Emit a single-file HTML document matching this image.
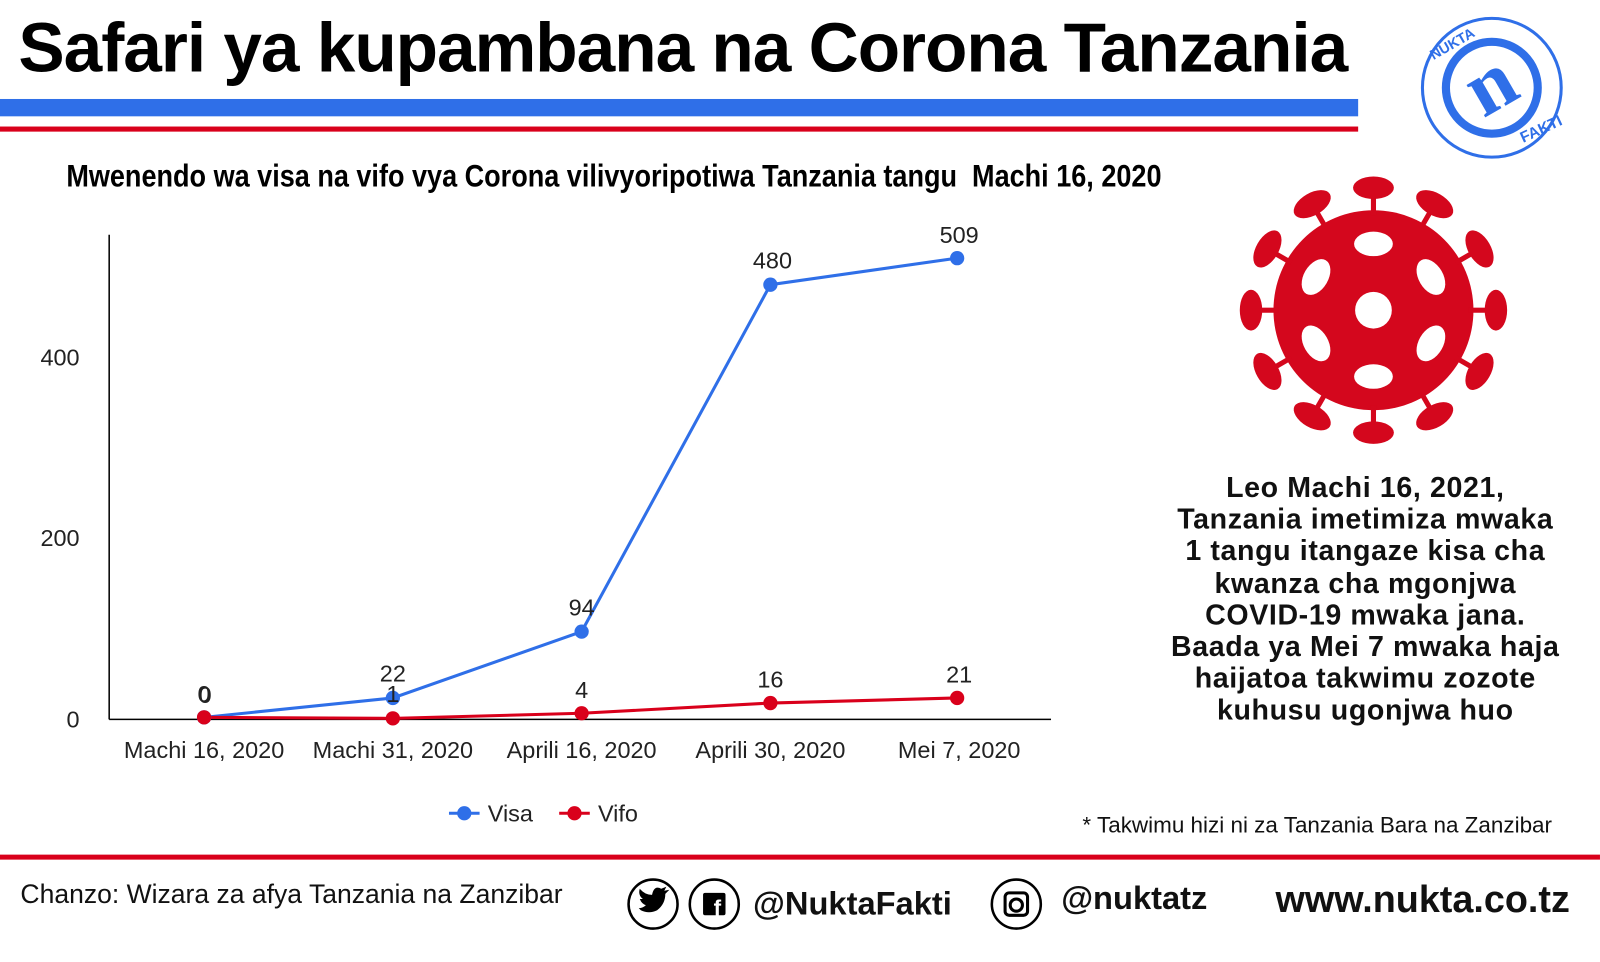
<!DOCTYPE html>
<html><head><meta charset="utf-8"><style>
html,body{margin:0;padding:0;background:#fff;overflow:hidden}
#w{position:absolute;left:0;top:0;width:1568px;height:943px;transform:scale(1.0204);transform-origin:0 0;font-family:"Liberation Sans",sans-serif}
.a{position:absolute;white-space:nowrap}
</style></head><body><div id="w">
<div class="a" style="left:18px;top:8px;font-size:68px;font-weight:bold;color:#000;letter-spacing:-1px">Safari ya kupambana na Corona Tanzania</div>
<div class="a" style="left:0;top:97px;width:1331px;height:17px;background:#2f6fe8"></div>
<div class="a" style="left:0;top:124px;width:1331px;height:5px;background:#d9001b"></div>
<div class="a" style="left:65px;top:155px;font-size:31px;font-weight:bold;transform:scaleX(0.855);transform-origin:0 0">Mwenendo wa visa na vifo vya Corona vilivyoripotiwa Tanzania tangu&nbsp; Machi 16, 2020</div>
<svg class="a" style="left:0;top:0" width="1568" height="943">
<g font-family="Liberation Sans,sans-serif" font-size="23" fill="#222">
<line x1="107" y1="230" x2="107" y2="705" stroke="#000" stroke-width="1.5"/>
<line x1="107" y1="705" x2="1030" y2="705" stroke="#000" stroke-width="1.5"/>
<text x="78" y="713" text-anchor="end">0</text>
<text x="78" y="535" text-anchor="end">200</text>
<text x="78" y="358" text-anchor="end">400</text>
<text x="200" y="743" text-anchor="middle">Machi 16, 2020</text>
<text x="385" y="743" text-anchor="middle">Machi 31, 2020</text>
<text x="570" y="743" text-anchor="middle">Aprili 16, 2020</text>
<text x="755" y="743" text-anchor="middle">Aprili 30, 2020</text>
<text x="940" y="743" text-anchor="middle">Mei 7, 2020</text>
<polyline points="200,703 385,684 570,619 755,279 938,253" fill="none" stroke="#2f6fe8" stroke-width="3"/>
<polyline points="200,703 385,704 570,699 755,689 938,684" fill="none" stroke="#d9001b" stroke-width="3"/>
<g fill="#2f6fe8"><circle cx="200" cy="703" r="7"/><circle cx="385" cy="684" r="7"/><circle cx="570" cy="619" r="7"/><circle cx="755" cy="279" r="7"/><circle cx="938" cy="253" r="7"/></g>
<g fill="#d9001b"><circle cx="200" cy="703" r="7"/><circle cx="385" cy="704" r="7"/><circle cx="570" cy="699" r="7"/><circle cx="755" cy="689" r="7"/><circle cx="938" cy="684" r="7"/></g>
<g text-anchor="middle">
<text x="200" y="688">0</text><text x="385" y="668">22</text><text x="570" y="603">94</text><text x="757" y="263">480</text><text x="940" y="238">509</text>
<text x="201" y="689">0</text><text x="385" y="688">1</text><text x="570" y="684">4</text><text x="755" y="674">16</text><text x="940" y="669">21</text>
</g>
<line x1="440" y1="797" x2="470" y2="797" stroke="#2f6fe8" stroke-width="3"/><circle cx="455" cy="797" r="7" fill="#2f6fe8"/>
<text x="478" y="805">Visa</text>
<line x1="548" y1="797" x2="578" y2="797" stroke="#d9001b" stroke-width="3"/><circle cx="563" cy="797" r="7" fill="#d9001b"/>
<text x="586" y="805">Vifo</text>
</g>
<g transform="translate(1346,304)" fill="#d4071d">
<circle r="98"/>
<g id="sp"><rect x="-2.5" y="-118" width="5" height="25"/><ellipse cx="0" cy="-120" rx="20" ry="11"/></g>
<use href="#sp" transform="rotate(30)"/><use href="#sp" transform="rotate(60)"/><use href="#sp" transform="rotate(90)"/><use href="#sp" transform="rotate(120)"/><use href="#sp" transform="rotate(150)"/><use href="#sp" transform="rotate(180)"/><use href="#sp" transform="rotate(210)"/><use href="#sp" transform="rotate(240)"/><use href="#sp" transform="rotate(270)"/><use href="#sp" transform="rotate(300)"/><use href="#sp" transform="rotate(330)"/>
<g fill="#fff"><circle r="18"/>
<g id="h"><ellipse cx="0" cy="-65" rx="19" ry="12"/></g>
<use href="#h" transform="rotate(60)"/><use href="#h" transform="rotate(120)"/><use href="#h" transform="rotate(180)"/><use href="#h" transform="rotate(240)"/><use href="#h" transform="rotate(300)"/></g>
</g>
<g transform="translate(1462,86)">
<circle r="68" fill="none" stroke="#2f6fe8" stroke-width="3"/>
<circle r="45" fill="none" stroke="#2f6fe8" stroke-width="8"/>
<text x="0" y="22" text-anchor="middle" font-family="Liberation Serif,serif" font-weight="bold" font-size="80" fill="#2f6fe8" transform="rotate(-30)">n</text>
<text x="-36" y="-52" font-family="Liberation Sans,sans-serif" font-weight="bold" font-size="14" fill="#2f6fe8" transform="rotate(-30)">NUKTA</text>
<text x="5" y="62" font-family="Liberation Sans,sans-serif" font-weight="bold" font-size="15" fill="#2f6fe8" transform="rotate(-25)">FAKTI</text>
</g>
<line x1="0" y1="840" x2="1568" y2="840" stroke="#d9001b" stroke-width="5"/>
<g fill="none" stroke="#000" stroke-width="2.5"><circle cx="640" cy="886" r="24"/><circle cx="700" cy="886" r="24"/><circle cx="996" cy="886" r="24"/></g>
<path d="M628 892 Q636 896 644 892 Q652 886 652 876 L656 872 L651 873 L653 869 L648 871 Q641 867 639 877 Q632 877 627 871 Q625 877 630 881 L627 881 Q629 886 633 887 Q630 890 626 890 Z" fill="#000"/>
<rect x="689" y="875" width="22" height="22" rx="2" fill="#000"/>
<text x="703" y="897" text-anchor="middle" font-size="22" font-weight="bold" fill="#fff" font-family="Liberation Sans,sans-serif">f</text>
<rect x="985" y="875" width="22" height="22" rx="4" fill="none" stroke="#000" stroke-width="3"/>
<circle cx="996" cy="887" r="6" fill="none" stroke="#000" stroke-width="3"/>
</svg>
<div class="a" style="left:1128px;top:462px;width:420px;text-align:center;font-size:28px;font-weight:bold;line-height:31.2px;color:#111;letter-spacing:0.6px">Leo Machi 16, 2021,<br>Tanzania imetimiza mwaka<br>1 tangu itangaze kisa cha<br>kwanza cha mgonjwa<br>COVID-19 mwaka jana.<br>Baada ya Mei 7 mwaka haja<br>haijatoa takwimu zozote<br>kuhusu ugonjwa huo</div>
<div class="a" style="right:47px;top:796px;font-size:22px;color:#111">* Takwimu hizi ni za Tanzania Bara na Zanzibar</div>
<div class="a" style="left:20px;top:861px;font-size:26px;color:#111">Chanzo: Wizara za afya Tanzania na Zanzibar</div>
<div class="a" style="left:738px;top:867px;font-size:32px;font-weight:bold;color:#111">@NuktaFakti</div>
<div class="a" style="left:1040px;top:862px;font-size:32px;font-weight:bold;color:#111">@nuktatz</div>
<div class="a" style="left:1250px;top:861px;font-size:37px;font-weight:bold;color:#111">www.nukta.co.tz</div>
</div></body></html>
